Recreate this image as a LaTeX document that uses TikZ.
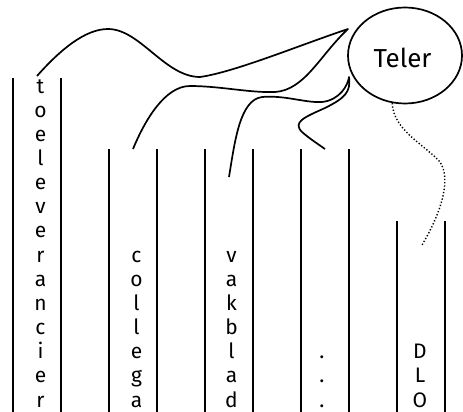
\documentclass[tikz,border=0pt]{standalone}
\usepackage{fontspec}
\setmainfont{Fira Sans}
\usetikzlibrary{shapes.geometric}
\begin{document}
\begin{tikzpicture}[x=1pt,y=-1pt,
  colline/.style={line width=1.7pt},
  curve/.style={line width=1.7pt, line join=round},
  dotcurve/.style={line width=1.4pt, dash pattern=on 1.3pt off 2pt},
  letter/.style={font=\fontsize{21}{24}\selectfont, anchor=base, inner sep=0pt},
  bubble/.style={draw, ellipse, line width=1.7pt, minimum width=114pt, minimum height=96pt, inner sep=0pt},
  bubbletext/.style={font=\fontsize{26}{30}\selectfont, anchor=base, inner sep=0pt}
]
\useasboundingbox (0,0) rectangle (463,412);

% column lines
\draw[colline] (13,78) -- (13,412);
\draw[colline] (61,78) -- (61,412);
\foreach \x in {109,157,205,253,301,349} \draw[colline] (\x,149) -- (\x,412);
\draw[colline] (397,221) -- (397,412);
\draw[colline] (445,221) -- (445,412);

% column texts
\foreach \ch [count=\i] in {t,o,e,l,e,v,e,r,a,n,c,i,e,r}
  \node[letter] (toe-\i) at (40.5,{407-24.15*(14-\i)}) {\ch};
\foreach \ch [count=\i] in {c,o,l,l,e,g,a}
  \node[letter] (col-\i) at (136.5,{407-24.15*(7-\i)}) {\ch};
\foreach \ch [count=\i] in {v,a,k,b,l,a,d}
  \node[letter] (vak-\i) at (231.5,{407-24.15*(7-\i)}) {\ch};
\foreach \ch [count=\i] in {.,.,.}
  \node[letter] (dot-\i) at (322,{407-24.15*(3-\i)}) {\ch};
\foreach \ch [count=\i] in {D,L,O}
  \node[letter] (dlo-\i) at (420,{407-24.15*(3-\i)}) {\ch};

% ellipse
\node[bubble] (teler) at (405,55.5) {};
\node[bubbletext] (telertext) at (402.5,67.7) {Teler};

% curve endpoints
\coordinate (aS) at (37,76);
\coordinate (tipA) at (348,29);
\coordinate (bE) at (133,149);
\coordinate (cS) at (229,177);
\coordinate (tipC) at (349,77);
\coordinate (dE) at (325,149);
\coordinate (dotE) at (422,245);

% curve A + B
\draw[curve] (aS) .. controls (60,50) and (85,29) .. (108,29)
  .. controls (140,29) and (165,77) .. (200,77)
  .. controls (235,72) and (300,45) .. (tipA)
  .. controls (320,55) and (305,90) .. (275,92)
  .. controls (250,93) and (220,86) .. (190,86)
  .. controls (165,86) and (145,120) .. (bE);

% curve C + D
\draw[curve] (cS) .. controls (235,140) and (240,100) .. (262,97)
  .. controls (285,95) and (305,103) .. (322,102)
  .. controls (340,100) and (348,85) .. (tipC)
  .. controls (351,92) and (345,98) .. (325,108)
  .. controls (305,117) and (292,122) .. (302,132)
  .. controls (310,139) and (318,144) .. (dE);

% dotted curve
\draw[dotcurve] (teler.255) .. controls (393,130) and (425,145) .. (440,162)
  .. controls (452,180) and (440,215) .. (dotE);
\end{tikzpicture}
\end{document}
